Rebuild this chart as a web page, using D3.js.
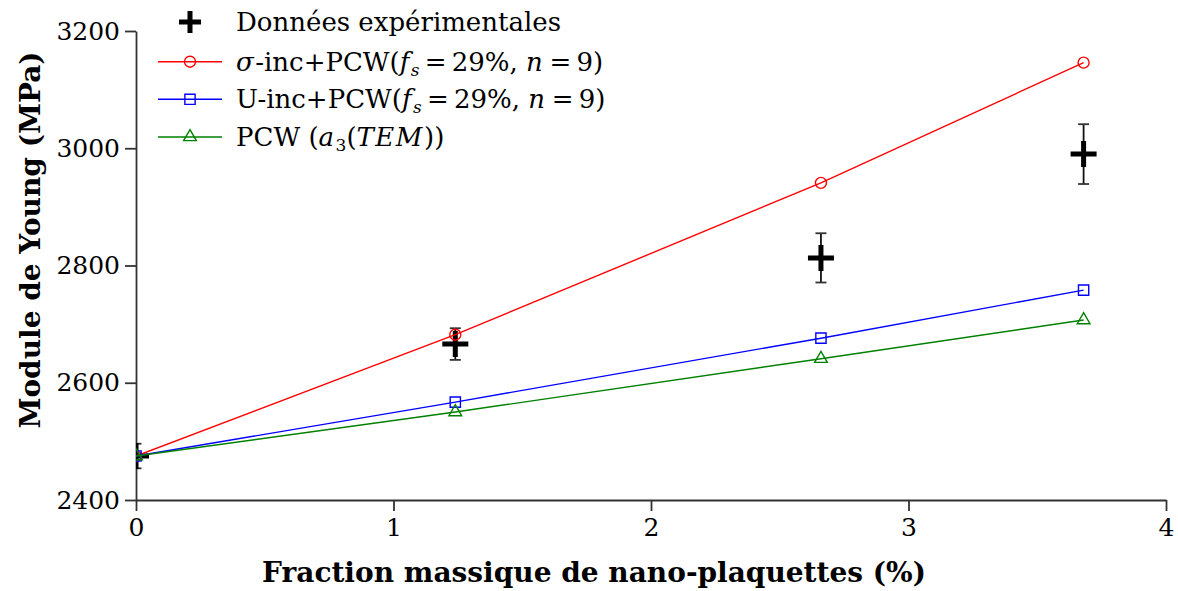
<!DOCTYPE html>
<html>
<head>
<meta charset="utf-8">
<script src="https://cdn.jsdelivr.net/npm/d3@7"></script>
<style>
  body { margin: 0; background: #fff; }
  svg text { font-family: "DejaVu Serif", serif; fill: #000; }
</style>
</head>
<body>
<div id="chartCtn"></div>
<script>
// fraction massique (%)
var fractions = [ 0, 1.24, 2.66, 3.68 ];
// modèles
var sigmaInc = [ 2475, 2682, 2941, 3146 ];
var uInc = [ 2475, 2567, 2676, 2758 ];
var pcwTem = [ 2475, 2550, 2641, 2707 ];
// données expérimentales
var expMean = [ 2475, 2666, 2813, 2990 ];
var expErr = [ 21, 27, 42, 51 ];

var xTicks = [ 0, 1, 2, 3, 4 ];
var yTicks = [ 2400, 2600, 2800, 3000, 3200 ];

( function () {
	var width = 1178, height = 591;
	var mLeft = 136, mRight = 1166, mTop = 31, mBottom = 500;

	var svg = d3.select( "#chartCtn" )
		.append( "svg" )
		.attr( "width", width )
		.attr( "height", height );

	var xScale = d3.scaleLinear().domain( [ 0, 4 ] ).range( [ mLeft, mRight ] );
	var yScale = d3.scaleLinear().domain( [ 2400, 3200 ] ).range( [ mBottom, mTop ] );

	svg.append( "defs" ).append( "clipPath" ).attr( "id", "clip" )
		.append( "rect" )
		.attr( "x", mLeft ).attr( "y", 0 )
		.attr( "width", mRight - mLeft + 12 ).attr( "height", mBottom );

	// axes
	var xAxis = svg.append( "g" )
		.attr( "transform", `translate(0, ${ mBottom })` )
		.call( d3.axisBottom( xScale ).tickValues( xTicks ).tickFormat( d3.format( "d" ) ).tickSize( 11 ).tickSizeOuter( 0 ).tickPadding( 7 ) );
	var yAxis = svg.append( "g" )
		.attr( "transform", `translate(${ mLeft }, 0)` )
		.call( d3.axisLeft( yScale ).tickValues( yTicks ).tickFormat( d3.format( "d" ) ).tickSize( 11 ).tickSizeOuter( 0 ).tickPadding( 5 ) );

	[ xAxis, yAxis ].forEach( function ( g ) {
		g.selectAll( "path, line" ).attr( "stroke", "#333" ).attr( "stroke-width", 1.8 );
		g.selectAll( "text" )
			.style( "font-family", "'DejaVu Serif', serif" )
			.style( "font-size", "25px" )
			.attr( "fill", "#000" );
	} );

	var plot = svg.append( "g" ).attr( "clip-path", "url(#clip)" );

	// experimental points with error bars
	var exp = fractions.map( function ( f, i ) {
		return { x: f, y: expMean[ i ], e: expErr[ i ] };
	} );

	var eb = plot.selectAll( "g.eb" ).data( exp ).enter().append( "g" ).attr( "class", "eb" );
	eb.append( "line" )
		.attr( "x1", d => xScale( d.x ) ).attr( "x2", d => xScale( d.x ) )
		.attr( "y1", d => yScale( d.y - d.e ) ).attr( "y2", d => yScale( d.y + d.e ) )
		.attr( "stroke", "#111" ).attr( "stroke-width", 1.8 );
	eb.selectAll( "line.cap" )
		.data( d => [ [ d.x, d.y - d.e ], [ d.x, d.y + d.e ] ] )
		.enter().append( "line" )
		.attr( "class", "cap" )
		.attr( "x1", d => xScale( d[ 0 ] ) - 5.5 ).attr( "x2", d => xScale( d[ 0 ] ) + 5.5 )
		.attr( "y1", d => yScale( d[ 1 ] ) ).attr( "y2", d => yScale( d[ 1 ] ) )
		.attr( "stroke", "#333" ).attr( "stroke-width", 1.8 );

	eb.append( "path" )
		.attr( "d", "M-13,0H13M0,-13V13" )
		.attr( "transform", d => `translate(${ xScale( d.x ) },${ yScale( d.y ) })` )
		.attr( "stroke", "#000" ).attr( "stroke-width", 5 ).attr( "fill", "none" );

	// model series
	var series = [
		{ values: sigmaInc, color: "#ff0000", marker: "circle" },
		{ values: uInc, color: "#0000ff", marker: "square" },
		{ values: pcwTem, color: "#008000", marker: "triangle" }
	];

	var symbols = {
		circle: d3.symbol().type( d3.symbolCircle ).size( 95 ),
		square: d3.symbol().type( d3.symbolSquare ).size( 105 ),
		triangle: d3.symbol().type( d3.symbolTriangle ).size( 70 )
	};

	var line = d3.line().x( d => xScale( d[ 0 ] ) ).y( d => yScale( d[ 1 ] ) );

	series.forEach( function ( s ) {
		var pts = fractions.map( ( f, i ) => [ f, s.values[ i ] ] );
		plot.append( "path" )
			.datum( pts )
			.attr( "d", line )
			.attr( "fill", "none" )
			.attr( "stroke", s.color )
			.attr( "stroke-width", 1.4 );
		plot.selectAll( null )
			.data( pts )
			.enter()
			.append( "path" )
			.attr( "d", symbols[ s.marker ] )
			.attr( "transform", d => `translate(${ xScale( d[ 0 ] ) },${ yScale( d[ 1 ] ) })` )
			.attr( "fill", "none" )
			.attr( "stroke", s.color )
			.attr( "stroke-width", 1.4 );
	} );

	// legend
	var legend = svg.append( "g" ).attr( "transform", "translate(158, 0)" );
	var rowsY = [ 22, 61.7, 99.3, 137 ];
	var lmid = 32, tx = 78;

	legend.append( "path" )
		.attr( "d", "M-11,0H11M0,-11V11" )
		.attr( "transform", `translate(${ lmid },${ rowsY[ 0 ] })` )
		.attr( "stroke", "#000" ).attr( "stroke-width", 5 );
	legend.append( "text" )
		.attr( "x", tx ).attr( "y", rowsY[ 0 ] + 9 )
		.style( "font-size", "26px" )
		.text( "Données expérimentales" );

	var labelParts = [
		[ [ "σ", "it" ], [ "-inc+PCW(" ], [ "f", "it" ], [ "s", "sub" ], [ "\u2009=\u200929%, " ], [ "n", "it" ], [ "\u2009=\u20099)" ] ],
		[ [ "U-inc+PCW(" ], [ "f", "it" ], [ "s", "sub" ], [ "\u2009=\u200929%, " ], [ "n", "it" ], [ "\u2009=\u20099)" ] ],
		[ [ "PCW (" ], [ "a", "it" ], [ "3", "sub" ], [ "(" ], [ "TEM", "it" ], [ "))" ] ]
	];

	series.forEach( function ( s, i ) {
		var y = rowsY[ i + 1 ];
		legend.append( "line" )
			.attr( "x1", 0 ).attr( "x2", 64 ).attr( "y1", y ).attr( "y2", y )
			.attr( "stroke", s.color ).attr( "stroke-width", 1.4 );
		legend.append( "path" )
			.attr( "d", symbols[ s.marker ] )
			.attr( "transform", `translate(${ lmid },${ y })` )
			.attr( "fill", "none" ).attr( "stroke", s.color ).attr( "stroke-width", 1.4 );
		var t = legend.append( "text" )
			.attr( "x", tx ).attr( "y", y + 9 )
			.style( "font-size", "26px" );
		var shifted = false;
		labelParts[ i ].forEach( function ( p ) {
			var ts = t.append( "tspan" ).text( p[ 0 ] );
			if ( p[ 1 ] === "it" ) ts.style( "font-style", "italic" ).style( "letter-spacing", "1.5px" );
			if ( p[ 1 ] === "sub" ) {
				ts.style( "font-size", "17px" ).attr( "dy", 5 );
				if ( p[ 0 ] === "s" ) ts.style( "font-style", "italic" );
				shifted = true;
			} else if ( shifted ) {
				ts.attr( "dy", -5 );
				shifted = false;
			}
		} );
	} );

	// axis titles
	svg.append( "text" )
		.attr( "x", 594 )
		.attr( "y", 582 )
		.attr( "text-anchor", "middle" )
		.style( "font-size", "28px" )
		.style( "font-weight", "bold" )
		.text( "Fraction massique de nano-plaquettes (%)" );

	svg.append( "text" )
		.attr( "transform", "translate(40, 240) rotate(-90)" )
		.attr( "text-anchor", "middle" )
		.style( "font-size", "28px" )
		.style( "font-weight", "bold" )
		.text( "Module de Young (MPa)" );
} )();
</script>
</body>
</html>
